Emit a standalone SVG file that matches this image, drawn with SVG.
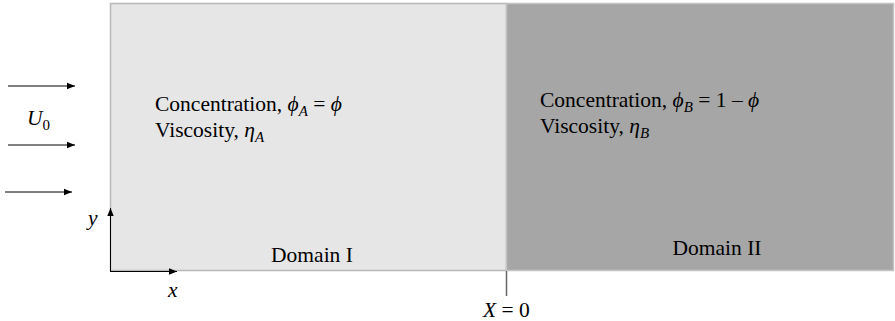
<svg xmlns="http://www.w3.org/2000/svg" width="895" height="321" viewBox="0 0 895 321">
<defs>
<marker id="ah" viewBox="0 0 10 10" refX="10" refY="5" markerWidth="8" markerHeight="8" markerUnits="userSpaceOnUse" orient="auto">
<path d="M0,1 L10,5 L0,9 Z" fill="#000"/>
</marker>
<style>
text{font-family:"Liberation Serif","Times New Roman",serif;font-size:21.5px;fill:#000}
.i{font-style:italic}
.ln{stroke:#000;stroke-width:1;fill:none}
</style>
</defs>
<rect width="895" height="321" fill="#fff"/>
<g id="domain1">
<rect x="110.5" y="3.5" width="396" height="267" fill="#e6e6e6" stroke="#b8b8b8" stroke-width="1.5"/>
<text x="155" y="111">Concentration, <tspan class="i">ϕ</tspan><tspan class="i" font-size="15" dy="5">A</tspan><tspan dy="-5"> = </tspan><tspan class="i">ϕ</tspan></text>
<text x="155" y="137">Viscosity, <tspan class="i">η</tspan><tspan class="i" font-size="15" dy="5">A</tspan></text>
<text x="312" y="262" text-anchor="middle">Domain I</text>
</g>
<g id="domain2">
<rect x="506.5" y="3.5" width="387" height="267" fill="#a6a6a6" stroke="#c4c4c4" stroke-width="1.5"/>
<text x="540" y="107">Concentration, <tspan class="i">ϕ</tspan><tspan class="i" font-size="15" dy="5">B</tspan><tspan dy="-5"> = 1 – </tspan><tspan class="i">ϕ</tspan></text>
<text x="540" y="133">Viscosity, <tspan class="i">η</tspan><tspan class="i" font-size="15" dy="5">B</tspan></text>
<text x="717" y="255" text-anchor="middle">Domain II</text>
</g>
<g id="inflow">
<text x="27" y="125" class="i">U<tspan font-size="15" dy="5" font-style="normal">0</tspan></text>
</g>
<g id="connectors">
<line class="ln" x1="8" y1="86" x2="75" y2="86" marker-end="url(#ah)"/>
<line class="ln" x1="8" y1="145" x2="75" y2="145" marker-end="url(#ah)"/>
<line class="ln" x1="5" y1="192" x2="72" y2="192" marker-end="url(#ah)"/>
<line class="ln" x1="110.5" y1="271" x2="110.5" y2="208" marker-end="url(#ah)"/>
<line class="ln" x1="110" y1="271.5" x2="177" y2="271.5" marker-end="url(#ah)"/>
<line x1="506.5" y1="271" x2="506.5" y2="296" stroke="#666" stroke-width="1.5"/>
</g>
<g id="labels">
<text x="88" y="225" class="i">y</text>
<text x="168" y="297" class="i">x</text>
<text x="483" y="317"><tspan class="i">X</tspan> = 0</text>
</g>
</svg>
